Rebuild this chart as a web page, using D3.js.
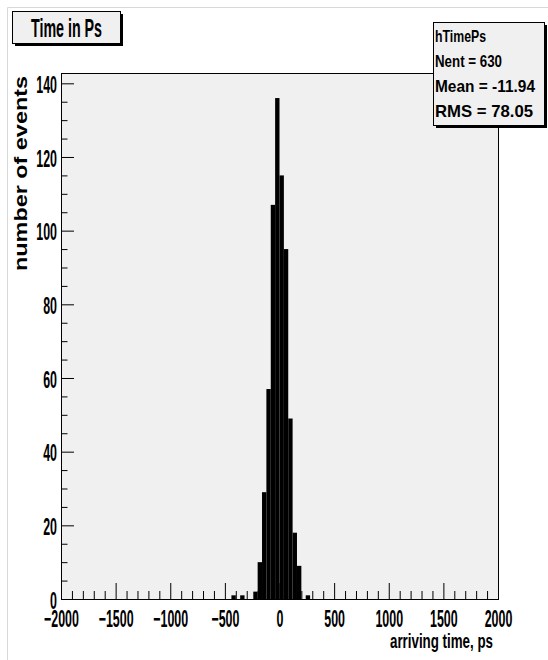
<!DOCTYPE html>
<html lang="en">
<head>
  <meta charset="UTF-8">
  <title>Time in Ps</title>
  <script src="https://d3js.org/d3.v7.min.js"></script>
  <style>
    body { margin: 0; background: #fff; }
    svg { display: block; font-family: "Liberation Sans", Arial, sans-serif; font-weight: bold; }
  </style>
</head>
<body>
<svg width="548" height="660"></svg>
<script>
// histogram hTimePs: 100 bins from -2000 to 2000 ps, only non-empty bins listed
const binWidth = 40;
const binLow = [-440, -360, -240, -200, -160, -120, -80, -40, 0, 40, 80, 120, 160, 240];
const counts = [1, 1, 2, 10, 29, 57, 107, 136, 115, 95, 49, 18, 9, 1];

const xMajor = [-2000, -1500, -1000, -500, 0, 500, 1000, 1500, 2000];
const yMajor = [0, 20, 40, 60, 80, 100, 120, 140];

const titleText = "Time in Ps";
const xTitle = "arriving time, ps";
const yTitle = "number of events";
const statsLines = ["hTimePs", "Nent = 630", "Mean  = -11.94", "RMS   =  78.05"];

const frame = { left: 61, right: 498, top: 73, bottom: 599 };
const narrow = 0.54; // ROOT's condensed-looking labels
const labelSize = "23px";

const svg = d3.select("svg");

// pad border (only top and left visible)
svg.append("path")
  .attr("d", "M7.5,660 V7.5 H548")
  .attr("fill", "none")
  .attr("stroke", "#d8d8d8");

const x = d3.scaleLinear().domain([-2000, 2000]).range([frame.left, frame.right]);
const y = d3.scaleLinear().domain([0, d3.max(counts) * 1.05]).range([frame.bottom, frame.top]);

// frame background
svg.append("rect")
  .attr("x", frame.left).attr("y", frame.top)
  .attr("width", frame.right - frame.left).attr("height", frame.bottom - frame.top)
  .attr("fill", "#f0f0f0");

// bars
svg.append("g")
  .selectAll("rect")
  .data(binLow.map((lo, i) => ({ lo, n: counts[i] })))
  .join("rect")
  .attr("x", d => x(d.lo))
  .attr("width", d => x(d.lo + binWidth) - x(d.lo))
  .attr("y", d => y(d.n))
  .attr("height", d => y(0) - y(d.n))
  .attr("fill", "#000");

// x axis
const xMinor = d3.range(-2000, 2001, 100).filter(v => v % 500 !== 0);
svg.append("g")
  .attr("transform", `translate(0,${frame.bottom})`)
  .call(d3.axisBottom(x).tickValues(xMinor).tickSize(-8).tickFormat(""))
  .call(g => g.select(".domain").remove());

const xAxis = svg.append("g")
  .attr("transform", `translate(0,${frame.bottom})`)
  .call(d3.axisBottom(x).tickValues(xMajor).tickSize(-16).tickSizeOuter(0).tickFormat(d3.format("d")));
xAxis.select(".domain").remove();
xAxis.selectAll("text")
  .attr("y", 28)
  .attr("dy", null)
  .attr("transform", `scale(${narrow},1)`)
  .attr("fill", "#000")
  .style("font-size", labelSize)
  .style("font-family", "'Liberation Sans', Arial, sans-serif")
  .style("font-weight", "bold");

// y axis
const yMinor = d3.range(0, 141, 5).filter(v => v % 20 !== 0);
svg.append("g")
  .attr("transform", `translate(${frame.left},0)`)
  .call(d3.axisLeft(y).tickValues(yMinor).tickSize(-6.5).tickFormat(""))
  .call(g => g.select(".domain").remove());

const yAxis = svg.append("g")
  .attr("transform", `translate(${frame.left},0)`)
  .call(d3.axisLeft(y).tickValues(yMajor).tickSize(-13).tickSizeOuter(0).tickFormat(d3.format("d")));
yAxis.select(".domain").remove();
yAxis.selectAll("text")
  .attr("x", 0)
  .attr("dy", "0.36em")
  .attr("transform", `translate(-4,1) scale(${narrow},1)`)
  .attr("fill", "#000")
  .style("font-size", labelSize)
  .style("font-family", "'Liberation Sans', Arial, sans-serif")
  .style("font-weight", "bold");

svg.selectAll(".tick line").attr("stroke", "#000");

// frame border
svg.append("rect")
  .attr("x", frame.left + 0.5).attr("y", frame.top + 0.5)
  .attr("width", frame.right - frame.left).attr("height", frame.bottom - frame.top)
  .attr("fill", "none")
  .attr("stroke", "#000");

// axis titles
svg.append("text")
  .attr("x", 493).attr("y", 648)
  .attr("text-anchor", "end")
  .attr("textLength", 103)
  .attr("lengthAdjust", "spacingAndGlyphs")
  .style("font-size", "20px")
  .text(xTitle);

svg.append("text")
  .attr("transform", "translate(27,76) rotate(-90)")
  .attr("text-anchor", "end")
  .attr("textLength", 195)
  .attr("lengthAdjust", "spacingAndGlyphs")
  .style("font-size", "19px")
  .text(yTitle);

// boxes with shadow
function shadowBox(x0, y0, w, h) {
  svg.append("rect").attr("x", x0 + 3).attr("y", y0 + 3).attr("width", w).attr("height", h).attr("fill", "#000");
  svg.append("rect").attr("x", x0 + 0.5).attr("y", y0 + 0.5).attr("width", w).attr("height", h)
    .attr("fill", "#f0f0f0").attr("stroke", "#000");
}

shadowBox(12, 11, 108, 32);
svg.append("text")
  .attr("x", 31).attr("y", 36.5)
  .attr("textLength", 71)
  .attr("lengthAdjust", "spacingAndGlyphs")
  .style("font-size", "25px")
  .text(titleText);

shadowBox(433, 22, 111, 103);
const statWidths = [51, 67, 100, 98];
const statBase = [41.5, 66.5, 92, 117];
svg.append("g")
  .selectAll("text")
  .data(statsLines)
  .join("text")
  .attr("x", 435)
  .attr("y", (d, i) => statBase[i])
  .attr("textLength", (d, i) => statWidths[i])
  .attr("lengthAdjust", "spacingAndGlyphs")
  .style("font-size", "17px")
  .text(d => d);
</script>
</body>
</html>
